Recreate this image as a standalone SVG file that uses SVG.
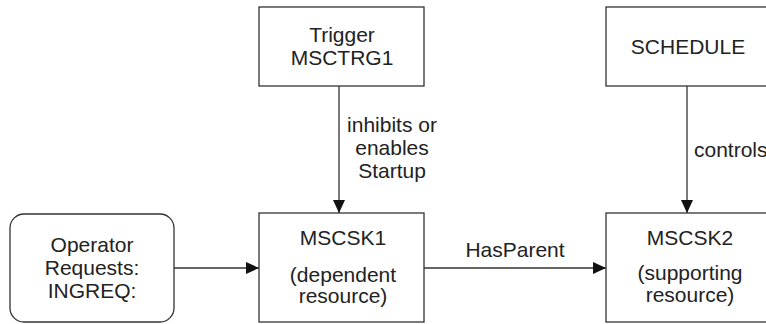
<svg xmlns="http://www.w3.org/2000/svg" width="766" height="324" viewBox="0 0 766 324">
<style>
.box{fill:#fff;stroke:#333;stroke-width:1.3}
.t{font-family:"Liberation Sans",Arial,sans-serif;font-size:21px;fill:#222;text-anchor:middle}
.ts{text-anchor:start}
.c{stroke:#333;stroke-width:1.3;fill:none}
</style>
<defs>
<marker id="ah" markerUnits="userSpaceOnUse" markerWidth="14" markerHeight="12" refX="13" refY="6" orient="auto">
<path d="M0,0 L13,6 L0,12 z" fill="#111"/>
</marker>
</defs>
<rect width="766" height="324" fill="#fff"/>
<g id="connectors">
<line class="c" x1="339" y1="86" x2="339" y2="213" marker-end="url(#ah)"/>
<line class="c" x1="687" y1="86" x2="687" y2="213" marker-end="url(#ah)"/>
<line class="c" x1="174" y1="268" x2="259" y2="268" marker-end="url(#ah)"/>
<line class="c" x1="424" y1="268" x2="606" y2="268" marker-end="url(#ah)"/>
<text class="t" x="392" y="132">inhibits or</text>
<text class="t" x="392" y="155">enables</text>
<text class="t" x="392" y="178">Startup</text>
<text class="t ts" x="694" y="157">controls</text>
<text class="t" x="515" y="257">HasParent</text>
</g>
<g id="trigger">
<rect class="box" x="259" y="7" width="165" height="79"/>
<text class="t" x="342" y="42">Trigger</text>
<text class="t" x="342" y="65">MSCTRG1</text>
</g>
<g id="schedule">
<rect class="box" x="606" y="7" width="165" height="79"/>
<text class="t" x="688" y="54">SCHEDULE</text>
</g>
<g id="operator">
<rect class="box" x="10" y="214" width="164" height="108" rx="14"/>
<text class="t" x="92" y="252">Operator</text>
<text class="t" x="92" y="275">Requests:</text>
<text class="t" x="92" y="298">INGREQ:</text>
</g>
<g id="mscsk1">
<rect class="box" x="259" y="213" width="165" height="109"/>
<text class="t" x="343" y="245">MSCSK1</text>
<text class="t" x="343" y="282">(dependent</text>
<text class="t" x="343" y="303">resource)</text>
</g>
<g id="mscsk2">
<rect class="box" x="606" y="213" width="165" height="109"/>
<text class="t" x="690" y="245">MSCSK2</text>
<text class="t" x="690" y="280">(supporting</text>
<text class="t" x="690" y="302">resource)</text>
</g>
</svg>
